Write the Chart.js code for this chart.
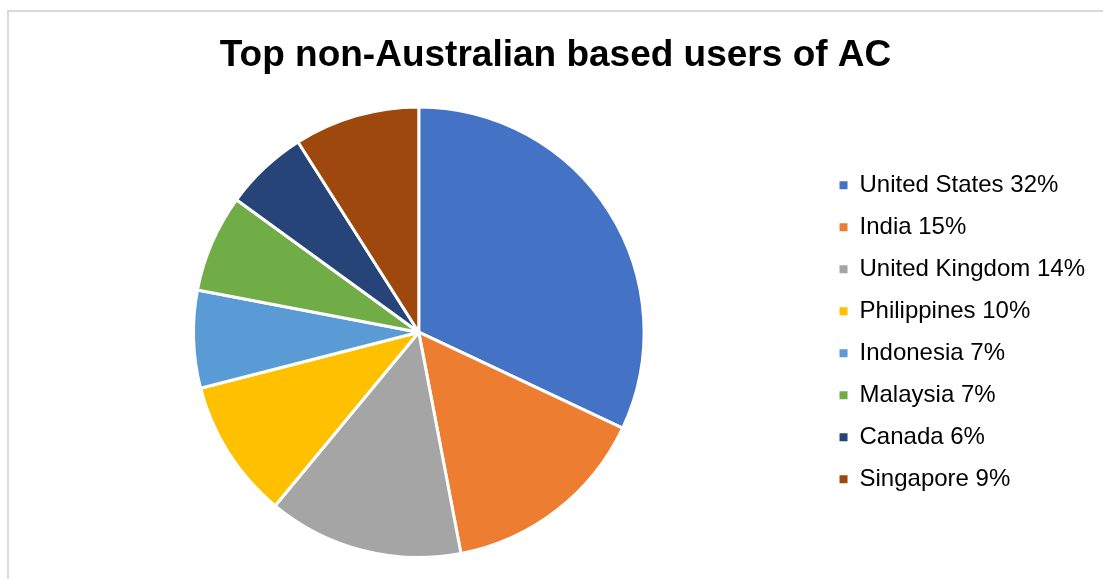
<!DOCTYPE html>
<html>
<head>
<meta charset="utf-8">
<script src="https://cdn.jsdelivr.net/npm/chart.js@4.4.1/dist/chart.umd.min.js"></script>
<style>
  html, body { margin: 0; padding: 0; background: #fff; }
  #wrap { position: relative; width: 1103px; height: 579px; overflow: hidden; }
  #frame { position: absolute; left: 7px; top: 10px; width: 1200px; height: 700px;
           border-left: 2px solid #d9d9d9; border-top: 2px solid #d9d9d9; pointer-events: none; }
  #pieChart { position: absolute; left: 0; top: 0; }
</style>
</head>
<body>
<div id="wrap">
  <div id="frame"></div>
  <canvas id="pieChart" width="1103" height="579"></canvas>
</div>
<script>
const countries = ['United States', 'India', 'United Kingdom', 'Philippines', 'Indonesia', 'Malaysia', 'Canada', 'Singapore'];
const shares = [32, 15, 14, 10, 7, 7, 6, 9];
const sliceColors = ['#4472C4', '#ED7D31', '#A5A5A5', '#FFC000', '#5B9BD5', '#70AD47', '#264478', '#9E480E'];

const ctx = document.getElementById('pieChart').getContext('2d');
new Chart(ctx, {
    type: 'pie',
    data: {
        labels: countries,
        datasets: [{
            data: shares,
            backgroundColor: sliceColors,
            borderColor: '#ffffff',
            borderWidth: 3
        }]
    },
    options: {
        responsive: false,
        animation: false,
        layout: {
            padding: { left: 16, right: 8, top: 0, bottom: 20 }
        },
        plugins: {
            title: {
                display: true,
                text: 'Top non-Australian based users of AC',
                color: '#000',
                font: { family: 'Liberation Sans, Arial, sans-serif', size: 37, weight: 'bold' },
                padding: { top: 34, bottom: 27 }
            },
            legend: {
                position: 'right',
                fullSize: false,
                labels: {
                    color: '#000',
                    font: { family: 'Liberation Sans, Arial, sans-serif', size: 24 },
                    boxWidth: 8,
                    boxHeight: 8,
                    padding: 18,
                    generateLabels: function (chart) {
                        return countries.map((name, i) => ({
                            text: name + ' ' + shares[i] + '%',
                            fillStyle: sliceColors[i],
                            strokeStyle: sliceColors[i],
                            lineWidth: 0,
                            index: i,
                            hidden: false
                        }));
                    }
                }
            },
            tooltip: { enabled: false }
        }
    }
});
</script>
</body>
</html>
